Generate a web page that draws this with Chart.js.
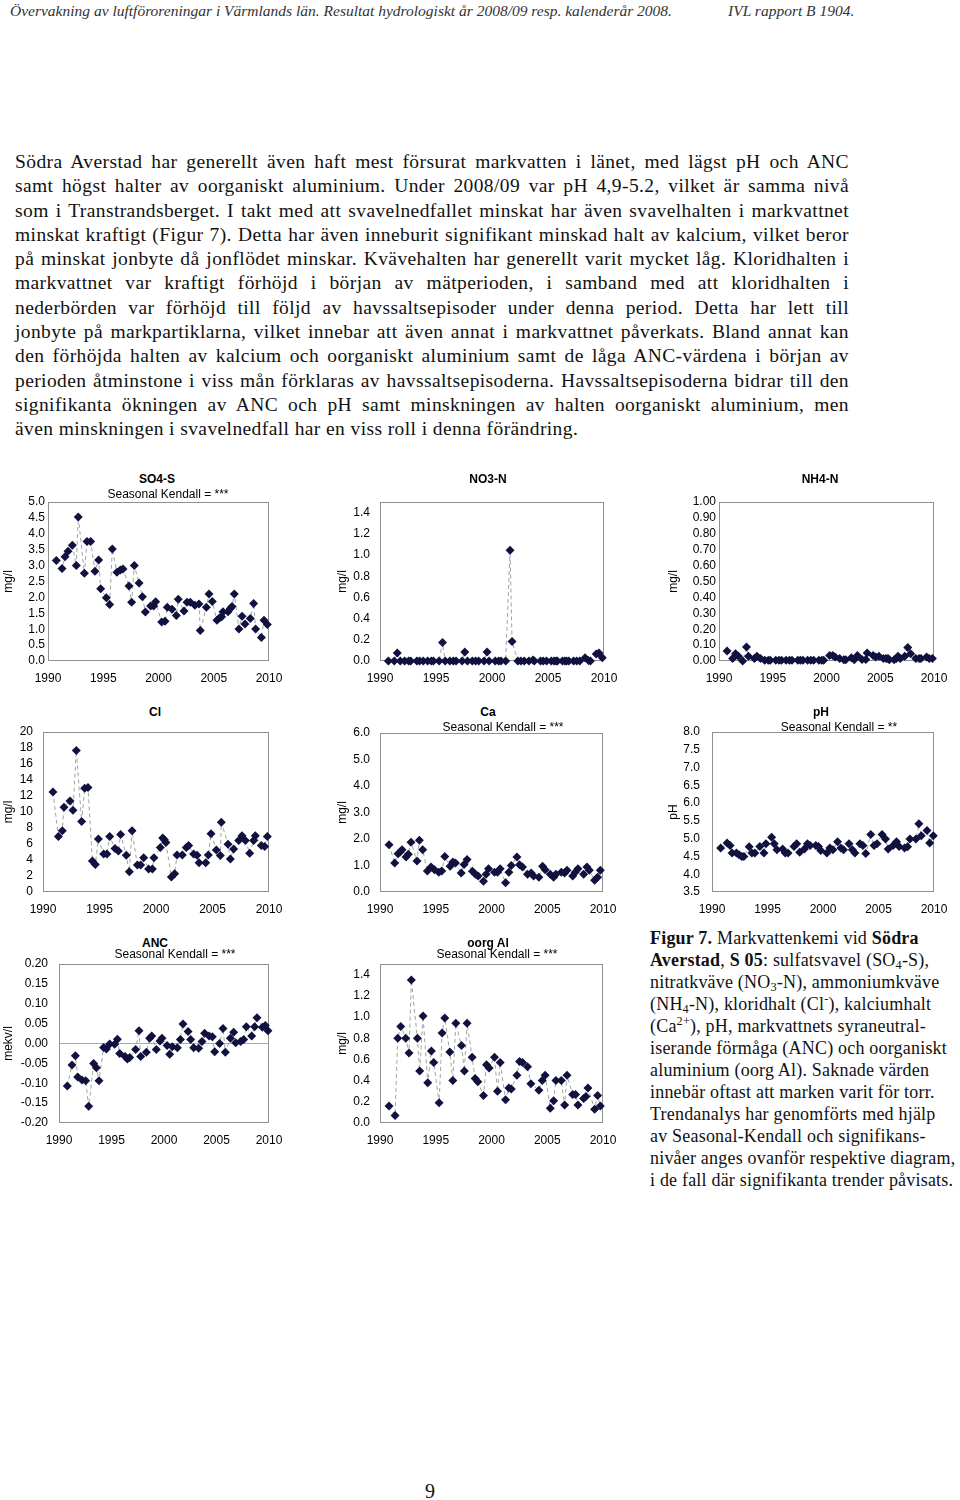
<!DOCTYPE html>
<html>
<head>
<meta charset="utf-8">
<script src="https://cdn.jsdelivr.net/npm/chart.js@4.4.1/dist/chart.umd.min.js"></script>
<style>
  html, body { margin: 0; padding: 0; background: #fff; }
  body { position: relative; width: 960px; height: 1500px; overflow: hidden; font-family: "Liberation Serif", "DejaVu Serif", serif; color: #111; }
  .abs { position: absolute; white-space: nowrap; }
  .head { top: 2px; font-style: italic; font-size: 15.5px; color: #333; }
  #para { position: absolute; left: 15px; top: 150px; width: 834px; font-size: 19.5px; letter-spacing: 0.4px; line-height: 24.3px; }
  #para div { text-align: justify; text-align-last: justify; white-space: nowrap; }
  #para div.last { text-align-last: left; }
  #caption { position: absolute; left: 650px; top: 927px; font-size: 18px; letter-spacing: 0.2px; line-height: 22px; white-space: nowrap; }
  sub, sup { font-size: 0.68em; line-height: 0; }
  sub { vertical-align: -0.25em; }
  sup { vertical-align: 0.55em; }
  .ctitle { position: absolute; transform: translate(-50%, -50%); white-space: nowrap; font-family: "Liberation Sans", Arial, sans-serif; font-size: 12px; color: #000; }
  .ctitle.b { font-weight: bold; }
  canvas { position: absolute; }
</style>
</head>
<body>
<div class="abs head" style="left:10px">Övervakning av luftföroreningar i Värmlands län. Resultat hydrologiskt år 2008/09 resp. kalenderår 2008.</div>
<div class="abs head" style="left:728px">IVL rapport B 1904.</div>

<div id="para">
<div>Södra Averstad har generellt även haft mest försurat markvatten i länet, med lägst pH och ANC</div>
<div>samt högst halter av oorganiskt aluminium. Under 2008/09 var pH 4,9-5.2, vilket är samma nivå</div>
<div>som i Transtrandsberget. I takt med att svavelnedfallet minskat har även svavelhalten i markvattnet</div>
<div>minskat kraftigt (Figur 7). Detta har även inneburit signifikant minskad halt av kalcium, vilket beror</div>
<div>på minskat jonbyte då jonflödet minskar. Kvävehalten har generellt varit mycket låg. Kloridhalten i</div>
<div>markvattnet var kraftigt förhöjd i början av mätperioden, i samband med att kloridhalten i</div>
<div>nederbörden var förhöjd till följd av havssaltsepisoder under denna period. Detta har lett till</div>
<div>jonbyte på markpartiklarna, vilket innebar att även annat i markvattnet påverkats. Bland annat kan</div>
<div>den förhöjda halten av kalcium och oorganiskt aluminium samt de låga ANC-värdena i början av</div>
<div>perioden åtminstone i viss mån förklaras av havssaltsepisoderna. Havssaltsepisoderna bidrar till den</div>
<div>signifikanta ökningen av ANC och pH samt minskningen av halten oorganiskt aluminium, men</div>
<div class="last">även minskningen i svavelnedfall har en viss roll i denna förändring.</div>
</div>

<div id="caption">
<b>Figur 7.</b> Markvattenkemi vid <b>Södra</b><br>
<b>Averstad</b>, <b>S 05</b>: sulfatsvavel (SO<sub>4</sub>-S),<br>
nitratkväve (NO<sub>3</sub>-N), ammoniumkväve<br>
(NH<sub>4</sub>-N), kloridhalt (Cl<sup>-</sup>), kalciumhalt<br>
(Ca<sup>2+</sup>), pH, markvattnets syraneutral-<br>
iserande förmåga (ANC) och oorganiskt<br>
aluminium (oorg Al). Saknade värden<br>
innebär oftast att marken varit för torr.<br>
Trendanalys har genomförts med hjälp<br>
av Seasonal-Kendall och signifikans-<br>
nivåer anges ovanför respektive diagram,<br>
i de fall där signifikanta trender påvisats.
</div>

<div class="abs" style="left:425px; top:1480px; font-size:20px;">9</div>

<script>
// sample dates (decimal years) and values
const so4Years = [1990.75,1991.27,1991.54,1991.81,1992.2,1992.56,1992.74,1993.29,1993.53,1993.86,1994.25,1994.58,1994.77,1995.28,1995.58,1995.82,1996.24,1996.55,1996.79,1997.33,1997.57,1997.81,1998.24,1998.54,1998.81,1999.29,1999.56,1999.74,2000.29,2000.59,2000.8,2001.22,2001.61,2001.79,2002.31,2002.58,2002.88,2003.3,2003.66,2003.78,2004.33,2004.57,2004.87,2005.29,2005.54,2005.72,2005.84,2006.29,2006.5,2006.65,2006.86,2007.28,2007.56,2007.83,2008.31,2008.61,2008.79,2009.31,2009.55,2009.85];
const so4Values = [3.16,2.91,3.28,3.45,3.64,3.0,4.53,2.76,3.76,3.76,2.82,3.18,2.27,1.99,1.78,3.52,2.79,2.86,2.89,2.36,1.85,3.0,2.45,2.02,1.54,1.73,1.73,1.86,1.23,1.25,1.69,1.63,1.43,1.94,1.57,1.85,1.85,1.75,1.79,0.96,1.69,2.11,1.87,1.28,1.36,1.39,1.55,1.55,1.65,1.71,2.11,1.01,1.41,1.16,1.34,1.81,1.01,0.74,1.28,1.15];

// NO3-N and NH4-N share the SO4-S sampling dates
const no3Values = [0,0,0.075,0,0,0,0,0,0,0,0,0,0,0,0.175,0,0,0,0,0,0.085,0,0,0,0,0,0.085,0,0,0,0,0,1.045,0.185,0,0,0,0,0.01,0,0,0,0,0,0,0,0,0,0,0,0,0,0,0,0.03,0.005,0,0.065,0.075,0.03];
const nh4Values = [0.063,0.015,0.046,0.03,0.0,0.088,0.03,0.015,0.03,0.015,0.005,0.005,0.005,0.005,0.005,0.005,0.005,0.005,0.005,0.005,0.005,0.005,0.005,0.005,0.005,0.005,0.005,0.005,0.035,0.035,0.025,0.015,0.008,0.008,0.02,0.008,0.035,0.01,0.01,0.05,0.035,0.025,0.03,0.015,0.015,0.015,0.008,0.008,0.015,0.03,0.015,0.03,0.085,0.046,0.015,0.015,0.015,0.025,0.015,0.015];

const clYears = [1990.88,1991.36,1991.71,1991.86,1992.39,1992.65,1992.95,1993.42,1993.69,1993.98,1994.37,1994.63,1994.9,1995.37,1995.66,1995.9,1996.37,1996.67,1996.87,1997.37,1997.64,1997.88,1998.35,1998.64,1998.91,1999.35,1999.68,1999.82,2000.38,2000.59,2000.74,2000.88,2001.36,2001.65,2001.86,2002.33,2002.68,2002.89,2003.33,2003.63,2003.81,2004.4,2004.63,2004.87,2005.34,2005.69,2005.78,2006.37,2006.58,2006.87,2007.32,2007.61,2007.91,2008.29,2008.64,2008.79,2009.32,2009.62,2009.85];
const clValues = [12.5,6.95,7.66,10.6,11.37,10.23,17.68,8.8,12.97,13.05,3.87,3.45,6.61,4.76,4.76,6.95,5.43,5.14,7.2,4.59,2.53,7.66,3.37,3.37,4.29,2.86,2.86,4.29,5.56,6.74,6.53,6.19,1.89,2.27,4.63,4.63,5.56,5.81,4.76,4.59,3.66,3.66,4.63,7.28,5.26,4.55,8.72,5.98,4.13,5.39,6.44,7.03,6.44,4.85,6.44,7.03,5.81,5.68,6.95];

const caYears = [1990.81,1991.32,1991.62,1991.8,1991.98,1992.34,1992.54,1992.78,1993.32,1993.53,1993.83,1994.25,1994.58,1994.88,1995.27,1995.54,1995.81,1996.29,1996.53,1996.77,1997.28,1997.54,1997.81,1998.29,1998.56,1998.8,1999.28,1999.52,1999.73,2000.27,2000.54,2000.78,2001.26,2001.56,2001.77,2002.28,2002.51,2002.78,2003.23,2003.56,2003.77,2004.25,2004.58,2004.81,2005.27,2005.57,2005.78,2006.26,2006.56,2006.77,2007.28,2007.51,2007.75,2008.26,2008.56,2008.77,2009.25,2009.52,2009.76];
const caValues = [1.78,1.09,1.44,1.51,1.59,1.32,1.42,1.88,1.17,1.95,1.59,0.79,0.94,0.84,0.75,0.79,1.34,0.97,1.13,1.09,0.72,1.04,1.23,0.78,0.67,0.6,0.41,0.67,0.88,0.75,0.75,0.88,0.35,0.75,1.0,1.32,1.03,0.94,0.67,0.72,0.6,0.56,0.97,0.84,0.67,0.56,0.67,0.75,0.72,0.82,0.6,0.75,0.88,0.67,0.94,0.82,0.44,0.56,0.82];

const phYears = [1990.78,1991.36,1991.63,1991.81,1992.2,1992.44,1992.68,1992.87,1993.35,1993.59,1993.86,1994.31,1994.68,1994.86,1995.37,1995.61,1995.85,1996.36,1996.6,1996.85,1997.39,1997.63,1997.9,1998.33,1998.6,1998.84,1999.35,1999.59,1999.8,2000.35,2000.62,2000.89,2001.31,2001.61,2001.85,2002.34,2002.64,2002.88,2003.33,2003.6,2003.85,2004.3,2004.6,2004.87,2005.32,2005.63,2005.87,2006.32,2006.62,2006.86,2007.35,2007.62,2007.83,2008.37,2008.64,2008.85,2009.37,2009.61,2009.94];
const phValues = [4.74,4.88,4.81,4.6,4.6,4.55,4.5,4.5,4.77,4.6,4.6,4.78,4.6,4.86,5.04,4.86,4.69,4.71,4.6,4.6,4.78,4.86,4.62,4.71,4.86,4.81,4.81,4.78,4.67,4.6,4.74,4.69,4.91,4.74,4.69,4.86,4.69,4.6,4.86,4.81,4.58,5.12,4.81,4.86,5.12,4.99,4.71,4.81,4.91,4.78,4.74,4.77,4.99,4.99,5.42,5.08,5.23,4.88,5.08];

const ancYears = [1990.79,1991.24,1991.56,1991.78,1992.19,1992.54,1992.83,1993.3,1993.56,1993.81,1994.25,1994.51,1994.83,1995.3,1995.56,1995.78,1996.29,1996.51,1996.73,1997.3,1997.62,1997.78,1998.32,1998.63,1998.83,1999.27,1999.62,1999.81,2000.29,2000.54,2000.79,2001.27,2001.56,2001.81,2002.29,2002.54,2002.83,2003.3,2003.62,2003.87,2004.29,2004.6,2004.83,2005.3,2005.62,2005.84,2006.32,2006.63,2006.83,2007.3,2007.59,2007.84,2008.35,2008.63,2008.86,2009.37,2009.65,2009.9];
const ancValues = [-0.107,-0.054,-0.031,-0.084,-0.092,-0.094,-0.158,-0.05,-0.061,-0.094,-0.01,-0.014,-0.001,-0.002,0.011,-0.025,-0.033,-0.039,-0.035,-0.015,0.032,-0.033,-0.022,0.013,0.019,-0.015,0.006,0.013,-0.005,-0.027,-0.008,-0.011,0.01,0.049,0.03,0.01,-0.011,-0.012,0.005,0.026,0.019,0.017,-0.021,0.0,0.038,-0.022,0.013,0.028,0.002,0.005,0.01,0.042,0.019,0.042,0.065,0.041,0.045,0.032];

const alYears = [1990.81,1991.35,1991.59,1991.86,1992.31,1992.6,1992.81,1993.35,1993.56,1993.86,1994.28,1994.61,1994.82,1995.3,1995.57,1995.81,1996.26,1996.53,1996.8,1997.31,1997.57,1997.81,1998.26,1998.53,1998.77,1999.28,1999.55,1999.79,2000.27,2000.54,2000.78,2001.26,2001.56,2001.77,2002.28,2002.51,2002.78,2003.23,2003.53,2004.25,2004.55,2004.81,2005.27,2005.57,2005.78,2006.26,2006.56,2006.77,2007.28,2007.54,2007.75,2008.26,2008.47,2008.65,2009.25,2009.52,2009.76];
const alValues = [0.16,0.07,0.8,0.91,0.8,0.66,1.35,0.8,0.49,1.01,0.38,0.68,0.57,0.19,0.85,0.99,0.67,0.4,0.94,0.73,0.49,0.94,0.62,0.42,0.39,0.26,0.55,0.52,0.62,0.3,0.57,0.22,0.33,0.32,0.45,0.58,0.57,0.53,0.37,0.31,0.4,0.45,0.14,0.21,0.4,0.4,0.17,0.45,0.27,0.27,0.17,0.23,0.25,0.33,0.13,0.26,0.16];

// x axis
const yearMin = 1990, yearMax = 2010, yearStep = 5;

// panels: title, trend note, axis title, y range, last labelled tick and tick step
const panels = [
  { title: 'SO4-S', trend: 'Seasonal Kendall = ***', unit: 'mg/l', years: so4Years, values: so4Values, yMin: 0, yMax: 5, yTop: 5, step: 0.5, dec: 1 },
  { title: 'NO3-N', trend: '', unit: 'mg/l', years: so4Years, values: no3Values, yMin: 0, yMax: 1.5, yTop: 1.4, step: 0.2, dec: 1 },
  { title: 'NH4-N', trend: '', unit: 'mg/l', years: so4Years, values: nh4Values, yMin: 0, yMax: 1, yTop: 1, step: 0.1, dec: 2 },
  { title: 'Cl', trend: '', unit: 'mg/l', years: clYears, values: clValues, yMin: 0, yMax: 20, yTop: 20, step: 2, dec: 0 },
  { title: 'Ca', trend: 'Seasonal Kendall = ***', unit: 'mg/l', years: caYears, values: caValues, yMin: 0, yMax: 6, yTop: 6, step: 1, dec: 1 },
  { title: 'pH', trend: 'Seasonal Kendall = **', unit: 'pH', years: phYears, values: phValues, yMin: 3.5, yMax: 8, yTop: 8, step: 0.5, dec: 1 },
  { title: 'ANC', trend: 'Seasonal Kendall = ***', unit: 'mekv/l', years: ancYears, values: ancValues, yMin: -0.2, yMax: 0.2, yTop: 0.2, step: 0.05, dec: 2, zeroLine: true },
  { title: 'oorg Al', trend: 'Seasonal Kendall = ***', unit: 'mg/l', years: alYears, values: alValues, yMin: 0, yMax: 1.5, yTop: 1.4, step: 0.2, dec: 1 }
];

// page placement of each panel: canvas left, plot box, label gap, title centres
const boxes = [
  { cl: 0,   l: 48,  t: 502, r: 269, b: 661,  gap: 3,  tx: 157, ty: 479, sx: 168, sy: 494 },
  { cl: 334, l: 380, t: 502, r: 604, b: 661,  gap: 10, tx: 488, ty: 479 },
  { cl: 665, l: 719, t: 502, r: 934, b: 661,  gap: 3,  tx: 820, ty: 479 },
  { cl: 0,   l: 43,  t: 732, r: 269, b: 892,  gap: 10, tx: 155, ty: 712 },
  { cl: 334, l: 380, t: 733, r: 603, b: 892,  gap: 10, tx: 488, ty: 712, sx: 503, sy: 727 },
  { cl: 665, l: 712, t: 732, r: 934, b: 892,  gap: 12, tx: 821, ty: 712, sx: 839, sy: 727 },
  { cl: 0,   l: 59,  t: 964, r: 269, b: 1123, gap: 11, tx: 155, ty: 943, sx: 175, sy: 954 },
  { cl: 334, l: 380, t: 964, r: 603, b: 1123, gap: 10, tx: 488, ty: 943, sx: 497, sy: 954 }
];

const PAD_TOP = 10, PAD_RIGHT = 22, X_AXIS_H = 28;
const tickFont = { family: '"Liberation Sans", Arial, sans-serif', size: 12 };

// thin grey frame round the plot area
const frame = {
  id: 'frame',
  beforeDatasetsDraw(chart) {
    const { ctx, chartArea: a } = chart;
    ctx.save();
    ctx.strokeStyle = '#8f8f8f';
    ctx.lineWidth = 1;
    ctx.strokeRect(Math.round(a.left) + 0.5, Math.round(a.top) + 0.5, Math.round(a.width) - 1, Math.round(a.height) - 1);
    ctx.restore();
  }
};

function addLabel(text, x, y, bold) {
  const d = document.createElement('div');
  d.className = 'ctitle' + (bold ? ' b' : '');
  d.textContent = text;
  d.style.left = x + 'px';
  d.style.top = y + 'px';
  document.body.appendChild(d);
}

panels.forEach((p, i) => {
  const box = boxes[i];
  const canvas = document.createElement('canvas');
  const top = box.t - PAD_TOP;
  const w = box.r + PAD_RIGHT - box.cl;
  const h = box.b + X_AXIS_H - top;
  canvas.width = w;
  canvas.height = h;
  canvas.style.left = box.cl + 'px';
  canvas.style.top = top + 'px';
  document.body.appendChild(canvas);

  addLabel(p.title, box.tx, box.ty, true);
  if (p.trend) addLabel(p.trend, box.sx, box.sy, false);

  const points = p.years.map((yr, k) => ({ x: yr, y: p.values[k] }));

  new Chart(canvas, {
    type: 'line',
    data: {
      datasets: [{
        data: points,
        borderColor: '#a3a3a3',
        borderWidth: 1,
        borderDash: [4, 3],
        pointStyle: 'rectRot',
        pointRadius: 4.5,
        pointBackgroundColor: '#11113f',
        pointBorderColor: '#11113f',
        pointBorderWidth: 0,
        tension: 0,
        clip: false
      }]
    },
    plugins: [frame],
    options: {
      responsive: false,
      animation: false,
      events: [],
      layout: { padding: { left: 0, top: PAD_TOP, right: PAD_RIGHT, bottom: 0 } },
      plugins: { legend: { display: false }, tooltip: { enabled: false } },
      scales: {
        x: {
          type: 'linear',
          min: yearMin,
          max: yearMax,
          afterFit(s) { s.height = X_AXIS_H; s.paddingLeft = 0; s.paddingRight = 0; },
          grid: { display: false, drawTicks: false },
          border: { display: false },
          ticks: { stepSize: yearStep, padding: 10, color: '#000', font: tickFont, maxRotation: 0, autoSkip: false, callback: v => String(v) }
        },
        y: {
          min: p.yMin,
          max: p.yMax,
          afterFit(s) { s.width = box.l - box.cl; s.paddingTop = 0; s.paddingBottom = 0; },
          afterBuildTicks(s) {
            const n = Math.round((p.yTop - p.yMin) / p.step);
            s.ticks = Array.from({ length: n + 1 }, (_, k) => ({ value: +(p.yMin + k * p.step).toFixed(6) }));
          },
          grid: {
            display: !!p.zeroLine,
            drawTicks: false,
            color: c => (c.tick && Math.abs(c.tick.value) < 1e-9) ? '#a8a8a8' : 'rgba(0,0,0,0)'
          },
          border: { display: false },
          ticks: { padding: box.gap, autoSkip: false, color: '#000', font: tickFont, callback: v => Number(v).toFixed(p.dec) },
          title: { display: true, text: p.unit, color: '#000', font: tickFont, padding: { top: 1, bottom: 0 } }
        }
      }
    }
  });
});
</script>
</body>
</html>
